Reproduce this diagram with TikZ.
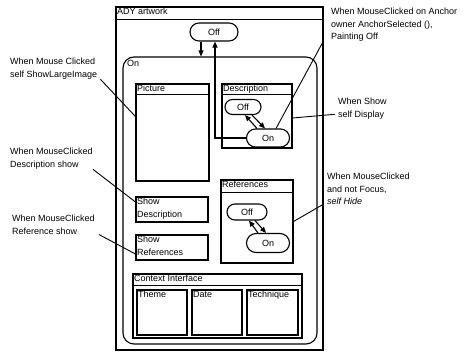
\documentclass[tikz,border=0pt]{standalone}
\usepackage{fontspec}
\setmainfont{Liberation Sans}
\usetikzlibrary{arrows.meta}

\begin{document}
\begin{tikzpicture}[
    x=1pt, y=-1pt,
    font=\fontsize{9}{12.5}\selectfont,
    frame/.style={
        draw=black, line width=1.1pt, inner sep=0pt
    },
    state/.style={
        draw=black, line width=1.1pt, inner sep=0pt,
        rounded corners=8pt
    },
    tag/.style={
        anchor=north west, inner sep=1.5pt, align=left
    },
    note/.style={
        anchor=north west, inner sep=0pt, align=left
    },
    trans/.style={
        -{Triangle[length=6pt, width=5pt]}, line width=1.1pt
    },
    lead/.style={
        line width=0.9pt
    }
]
\useasboundingbox (0,0) rectangle (466,354);

\node[frame, minimum width=207pt, minimum height=343pt] (ady) at (219.5,178.5) {};
\node[tag] (adyT) at (ady.north west) {ADY artwork};
\draw[line width=1.1pt] ([yshift=-13pt]ady.north west) -- ([yshift=-13pt]ady.north east);

\node[state, rounded corners=9pt, minimum width=48pt, minimum height=18pt] (off) at (214,32) {Off};

\node[frame, rounded corners=11pt, minimum width=194pt, minimum height=287pt] (on) at (220,200.5) {};
\node[tag] (onT) at ([shift={(3pt,-2pt)}]on.north west) {On};

\node[frame, minimum width=73pt, minimum height=97pt] (pic) at (172.5,132.5) {};
\node[tag] (picT) at (pic.north west) {Picture};
\draw[line width=1.1pt] ([yshift=-11pt]pic.north west) -- ([yshift=-11pt]pic.north east);

\node[frame, minimum width=70pt, minimum height=64pt] (desc) at (257,116) {};
\node[tag] (descT) at (desc.north west) {Description};
\draw[line width=1.1pt] ([yshift=-11pt]desc.north west) -- ([yshift=-11pt]desc.north east);
\node[state, rounded corners=7.5pt, minimum width=36pt, minimum height=15pt] (dOff) at (243,107) {Off};
\node[state, rounded corners=9pt, minimum width=43pt, minimum height=18pt] (dOn) at (268,138) {On};

\node[frame, minimum width=72pt, minimum height=83pt] (refs) at (257,221.5) {};
\node[tag] (refsT) at (refs.north west) {References};
\draw[line width=1.1pt] ([yshift=-13pt]refs.north west) -- ([yshift=-13pt]refs.north east);
\node[state, minimum width=40pt, minimum height=16pt] (rOff) at (247,212) {Off};
\node[state, rounded corners=9.5pt, minimum width=43pt, minimum height=19pt] (rOn) at (268,243) {On};

\node[frame, minimum width=72pt, minimum height=25pt] (sd) at (172,209.5) {};
\node[tag] (sdT) at (sd.north west) {Show\\Description};
\node[frame, minimum width=72pt, minimum height=25pt] (sr) at (172,247.5) {};
\node[tag] (srT) at (sr.north west) {Show\\References};

\node[frame, minimum width=169pt, minimum height=64pt] (ctx) at (217.5,306) {};
\node[tag] (ctxT) at (ctx.north west) {Context Interface};
\draw[line width=1.1pt] ([yshift=-12pt]ctx.north west) -- ([yshift=-12pt]ctx.north east);
\node[frame, minimum width=50pt, minimum height=45pt] (theme) at (162,312.5) {};
\node[tag] (themeT) at (theme.north west) {Theme};
\node[frame, minimum width=50pt, minimum height=45pt] (date) at (217,312.5) {};
\node[tag] (dateT) at (date.north west) {Date};
\node[frame, minimum width=51pt, minimum height=45pt] (tech) at (272.5,312.5) {};
\node[tag] (techT) at (tech.north west) {Technique};

\draw[trans] ([xshift=-13pt]off.south) -- ([xshift=-13pt]off.south |- on.north);
\draw[trans] (dOn.west) -| ([xshift=1pt]off.south);

\draw[trans] ([xshift=-11pt]dOn.north) -- ([xshift=2pt]dOff.south);
\draw[trans] ([xshift=9pt]dOff.south) -- ([xshift=-3pt]dOn.north);
\draw[trans] ([xshift=-10pt]rOn.north) -- ([xshift=2pt]rOff.south);
\draw[trans] ([xshift=8pt]rOff.south) -- ([xshift=-2pt]rOn.north);

\node[note] (a1) at (10,58) {When Mouse Clicked\\self ShowLargeImage};
\node[note] (a2) at (10,148) {When MouseClicked\\Description show};
\node[note] (a3) at (12,215) {When MouseClicked\\Reference show};
\node[note] (a4) at (331,8) {When MouseClicked on Anchor\\owner AnchorSelected (),\\Painting Off};
\node[note] (a5) at (338,98) {When Show\\self Display};
\node[note] (a6) at (327,173) {When MouseClicked\\and not Focus,\\{\itshape self Hide}};

\draw[lead] ([xshift=3pt]a1.south east) -- ([yshift=16pt]pic.west);
\draw[lead] (a2.south east) -- ([yshift=7.5pt]sd.west);
\draw[lead] ([xshift=4pt]a3.south east) -- ([yshift=-6.5pt]sr.west);
\draw[lead] ([xshift=-8pt]a4.south west) -- ([xshift=8pt]dOn.north);
\draw[lead] ([yshift=-2pt]desc.east) -- ([shift={(-3pt,5pt)}]a5.south west);
\draw[lead] (refs.east) -- ([xshift=-5pt]a6.south west);
\end{tikzpicture}
\end{document}
